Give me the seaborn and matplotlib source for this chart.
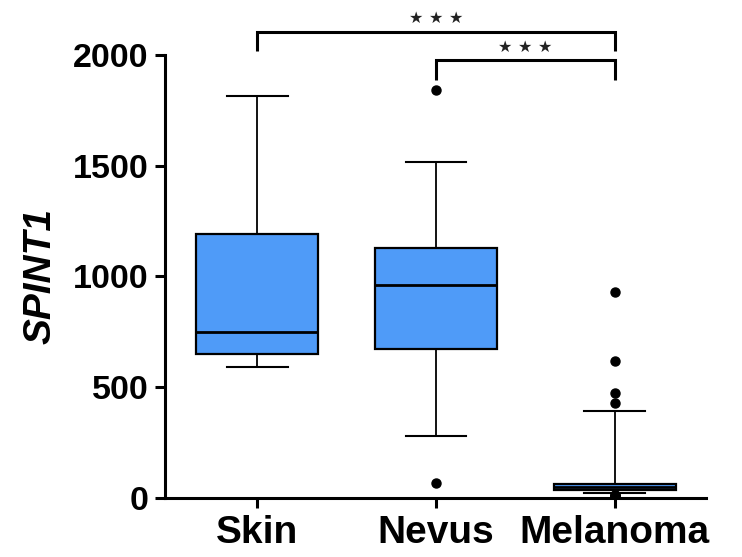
import matplotlib
matplotlib.use("Agg")
import matplotlib.pyplot as plt
import seaborn as sns
import pandas as pd

# ---- data ----
categories = ["Skin", "Nevus", "Melanoma"]

skin_values = [591, 591, 640, 680, 730, 770, 1100, 1223, 1815, 1815]

nevus_values = [68, 280, 420, 560, 665, 676, 760, 850, 920, 950,
                975, 1020, 1060, 1100, 1125, 1141, 1250, 1380, 1517, 1842]

melanoma_values = [8, 10, 12, 14,
                   22, 24, 25, 26, 27, 28, 29, 30, 31, 32, 33, 34, 34, 35, 35, 36,
                   37,
                   38, 38, 39, 40, 40, 41, 42, 42, 43, 44, 44, 45, 46, 46, 47, 48, 48, 49,
                   49, 51,
                   52, 52, 53, 54, 54, 55, 56, 57, 57, 58, 59, 60, 60, 61, 62, 63, 63, 64,
                   64, 68,
                   75, 85, 95, 110, 125, 140, 160, 180, 200, 225, 250, 280, 310, 350, 393,
                   429, 474, 619, 930]

yticks = [0, 500, 1000, 1500, 2000]
y_label = "SPINT1"
comparisons = [("Skin", "Melanoma", "★ ★ ★"), ("Nevus", "Melanoma", "★ ★ ★")]

df = pd.DataFrame({
    "group": (["Skin"] * len(skin_values) + ["Nevus"] * len(nevus_values)
              + ["Melanoma"] * len(melanoma_values)),
    "value": skin_values + nevus_values + melanoma_values,
})

plt.rcParams["font.family"] = ["Liberation Sans", "DejaVu Sans"]
plt.rcParams["font.weight"] = "bold"

fig = plt.figure(figsize=(7.42, 5.57), dpi=100)
ax = fig.add_axes([0.2224, 0.1059, 0.7291, 0.7954])

box_color = "#4F9BF8"
sns.boxplot(
    data=df, x="group", y="value", order=categories, ax=ax,
    color=box_color, saturation=1, width=0.68, whis=(5, 95),
    linewidth=1.5, linecolor="black",
    boxprops=dict(edgecolor="black", linewidth=1.6),
    medianprops=dict(color="black", linewidth=2.0),
    whiskerprops=dict(color="black", linewidth=1.3),
    capprops=dict(color="black", linewidth=1.5),
    flierprops=dict(marker="o", markerfacecolor="black", markeredgecolor="black",
                    markersize=6.5, linestyle="none"),
)

ax.set_xlim(-0.515, 2.51)
ax.set_ylim(0, 2000)
ax.set_yticks(yticks)
ax.set_yticklabels([str(t) for t in yticks])
ax.set_xlabel("")
ax.set_ylabel(y_label, fontsize=28, fontstyle="italic", fontweight="bold")
ax.yaxis.set_label_coords(-0.197, 0.5)

for s in ["top", "right"]:
    ax.spines[s].set_visible(False)
for s in ["left", "bottom"]:
    ax.spines[s].set_linewidth(2.2)
    ax.spines[s].set_color("black")

ax.tick_params(axis="y", length=7, width=2.2, pad=5, labelsize=24.5)
ax.tick_params(axis="x", length=7, width=2.2, pad=5, labelsize=28)
for lbl in ax.get_xticklabels() + ax.get_yticklabels():
    lbl.set_fontweight("bold")

# significance brackets
levels = [(2105, 2020, 2167), (1977, 1888, 2036)]
for (a, b, txt), (yb, yleg, yt) in zip(comparisons, levels):
    xa, xb = categories.index(a), categories.index(b)
    ax.plot([xa, xa, xb, xb], [yleg, yb, yb, yleg], color="black", lw=2.2,
            clip_on=False, solid_capstyle="butt", solid_joinstyle="miter")
    ax.text((xa + xb) / 2, yt, txt, ha="center", va="center", fontsize=11.5,
            color="#222222", family="DejaVu Sans", clip_on=False)

fig.savefig("out.png", dpi=100)
